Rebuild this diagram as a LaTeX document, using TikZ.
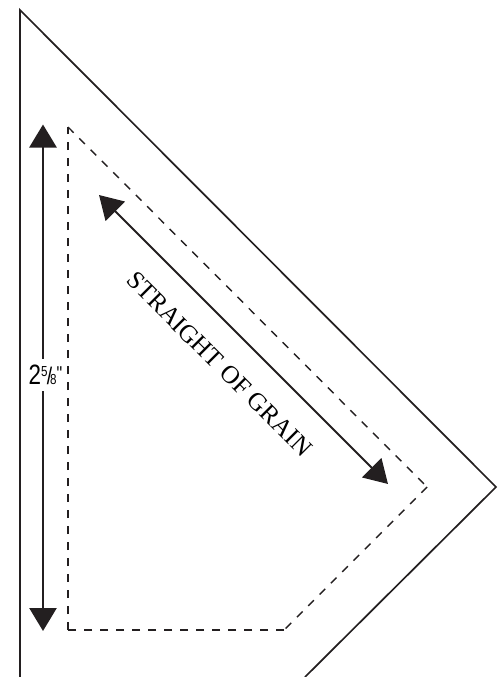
\documentclass[tikz,border=0pt]{standalone}
\usepackage{fontspec}
\setmainfont{Liberation Serif}
\newfontfamily\labelsans{Liberation Sans}
\usetikzlibrary{arrows.meta}
\definecolor{ink}{HTML}{231F20}
\tikzset{
  outline/.style={draw=ink,line width=1.7pt},
  seam/.style={draw=ink,line width=1.6pt,dash pattern=on 8pt off 8pt},
  measure/.style={draw=ink,line width=2.7pt,{Triangle[length=23pt,width=27pt]}-{Triangle[length=23pt,width=27pt]}},
  grain/.style={draw=ink,line width=2pt,{Triangle[length=23pt,width=27pt]}-{Triangle[length=23pt,width=27pt]}},
  grainlabel/.style={text=black,font=\fontsize{25.3}{26}\selectfont,rotate=-45,inner sep=0pt},
  sizelabel/.style={fill=white,text=black,inner xsep=1pt,inner ysep=6.5pt}
}
\newcommand{\fracpiece}[1]{{\fontsize{14.5}{14.5}\selectfont #1}}
\begin{document}
\begin{tikzpicture}[x=1pt,y=-1pt]
\useasboundingbox (0,0) rectangle (499,677);
\coordinate (o1) at (20,677);
\coordinate (o2) at (20,10);
\coordinate (o3) at (496,487);
\coordinate (o4) at (305,677);
\draw[outline,line join=miter] (o1) -- (o2) -- (o3) -- (o4);
\coordinate (mt) at (43,124.5);
\coordinate (mb) at (43,631);
\draw[measure] (mt) -- (mb);
\node[sizelabel] (sl) at (45.5,375) {\scalebox{0.8}[1]{\labelsans\fontsize{28}{30}\selectfont 2\raisebox{8.5pt}{\fracpiece{5}}\kern-1pt\fontsize{24}{24}\selectfont/\kern-2.5pt\fracpiece{8}\raisebox{4pt}{\fontsize{20}{20}\selectfont"}}};
\coordinate (s1) at (68,127);
\coordinate (s2) at (68,630);
\coordinate (s3) at (284,630);
\coordinate (s4) at (427,487);
\draw[seam] (s2) -- (s1);
\draw[seam,line width=1.4pt] (s1) -- (s4);
\draw[seam,line width=1.4pt] (s4) -- (s3);
\draw[seam] (s3) -- (s2);
\coordinate (gt) at (99,195);
\coordinate (gb) at (388,484);
\draw[grain] (gt) -- (gb);
\node[grainlabel] (gl) at (219.5,364) {STRAIGHT OF GRAIN};
\end{tikzpicture}
\end{document}
